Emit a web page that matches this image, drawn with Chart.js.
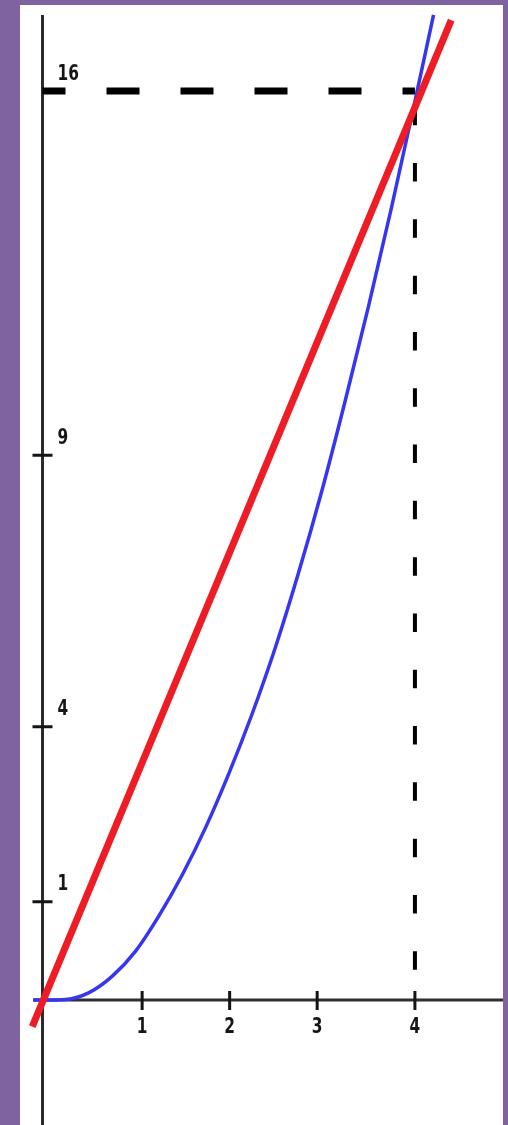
<!DOCTYPE html>
<html>
<head>
<meta charset="utf-8">
<script src="https://cdn.jsdelivr.net/npm/chart.js@4.4.1/dist/chart.umd.min.js"></script>
<style>
  html, body { margin: 0; padding: 0; background: #7f63a1; }
  #frame { position: absolute; left: 20px; top: 5px; width: 483px; height: 1120px; background: #fff; }
</style>
</head>
<body>
<div id="frame"><canvas id="c"></canvas></div>
<script>
// y = x² (blue) against the straight line through (0,0) and (4,16) (red),
// in the drawing's own units (its tick labels are not evenly placed)

const curveX = [-0.1, 0, 0.25, 0.5, 0.75, 1, 1.25, 1.5, 1.75, 2, 2.25, 2.5, 2.75, 3, 3.25, 3.5, 3.75, 4, 4.2];
const curveY = [0, 0, 0.01, 0.13, 0.42, 0.86, 1.48, 2.2, 3.03, 3.98, 5.03, 6.2, 7.52, 8.96, 10.54, 12.2, 13.96, 15.82, 17.34];

const lineX = [-0.11, 4.39];
const lineY = [-0.47, 17.25];

const meetX = 4;
const meetY = 16;

const xTickAt = [1.07, 2.01, 2.95, 4];
const xTickLabels = ['1', '2', '3', '4'];
const yTickAt = [1.73, 4.81, 9.59, 16];
const yTickLabels = ['1', '4', '9', '16'];

const pts = (xs, ys) => xs.map((v, i) => ({ x: v, y: ys[i] }));

const LABEL_FONT = 'bold 22px "DejaVu Sans", sans-serif';
const SQUEEZE = 0.7; // the digits in the drawing are narrow

function narrowText(ctx, text, px, py) {
  ctx.save();
  ctx.translate(px, py);
  ctx.scale(SQUEEZE, 1);
  ctx.fillText(text, 0, 0);
  ctx.restore();
}

// cross ticks and labels sitting on the two axes
const axisMarks = {
  id: 'axisMarks',
  afterDatasetsDraw(chart) {
    const { ctx, scales: { x, y } } = chart;
    const x0 = x.getPixelForValue(0);
    const y0 = y.getPixelForValue(0);
    ctx.save();
    ctx.strokeStyle = '#141414';
    ctx.lineWidth = 3;
    ctx.beginPath();
    yTickAt.slice(0, -1).forEach(v => {
      const py = y.getPixelForValue(v);
      ctx.moveTo(x0 - 10, py);
      ctx.lineTo(x0 + 10, py);
    });
    xTickAt.forEach(v => {
      const px = x.getPixelForValue(v);
      ctx.moveTo(px, y0 - 9);
      ctx.lineTo(px, y0 + 10);
    });
    ctx.stroke();

    ctx.fillStyle = '#161616';
    ctx.font = LABEL_FONT;
    ctx.textBaseline = 'middle';
    ctx.textAlign = 'center';
    xTickAt.forEach((v, i) => {
      narrowText(ctx, xTickLabels[i], x.getPixelForValue(v), y0 + 27);
    });
    ctx.textAlign = 'left';
    yTickAt.forEach((v, i) => {
      narrowText(ctx, yTickLabels[i], x0 + 15, y.getPixelForValue(v) - 17);
    });
    ctx.restore();
  },
};

const plain = { showLine: true, pointRadius: 0, fill: false };

new Chart(document.getElementById('c'), {
  type: 'scatter',
  data: {
    datasets: [
      { ...plain, label: 'y = 4x', data: pts(lineX, lineY),
        borderColor: '#ee1c25', borderWidth: 7, order: 1 },
      { ...plain, label: 'y = x²', data: pts(curveX, curveY),
        borderColor: '#3636f2', borderWidth: 3.5, cubicInterpolationMode: 'monotone', order: 2 },
      { ...plain, label: 'guide across', data: pts([0, meetX], [meetY, meetY]),
        borderColor: '#000', borderWidth: 7, borderDash: [33, 41], borderDashOffset: 10, order: 3 },
      { ...plain, label: 'guide down', data: pts([meetX, meetX], [meetY, 0]),
        borderColor: '#000', borderWidth: 4, borderDash: [18.5, 37.8], borderDashOffset: 40.6, order: 3 },
      { ...plain, label: 'x axis', data: pts([-0.1, 5], [0, 0]),
        borderColor: '#2e2e2e', borderWidth: 3, order: 4 },
      { ...plain, label: 'y axis', data: pts([0, 0], [-2.2, 17.34]),
        borderColor: '#2a2a2a', borderWidth: 3, order: 4 },
    ],
  },
  options: {
    responsive: true,
    maintainAspectRatio: false,
    animation: false,
    layout: { padding: 0 },
    plugins: { legend: { display: false }, tooltip: { enabled: false } },
    scales: {
      x: { type: 'linear', display: false, min: -0.2417, max: 4.946 },
      y: { type: 'linear', display: false, min: -2.2, max: 17.515 },
    },
  },
  plugins: [axisMarks],
});
</script>
</body>
</html>
